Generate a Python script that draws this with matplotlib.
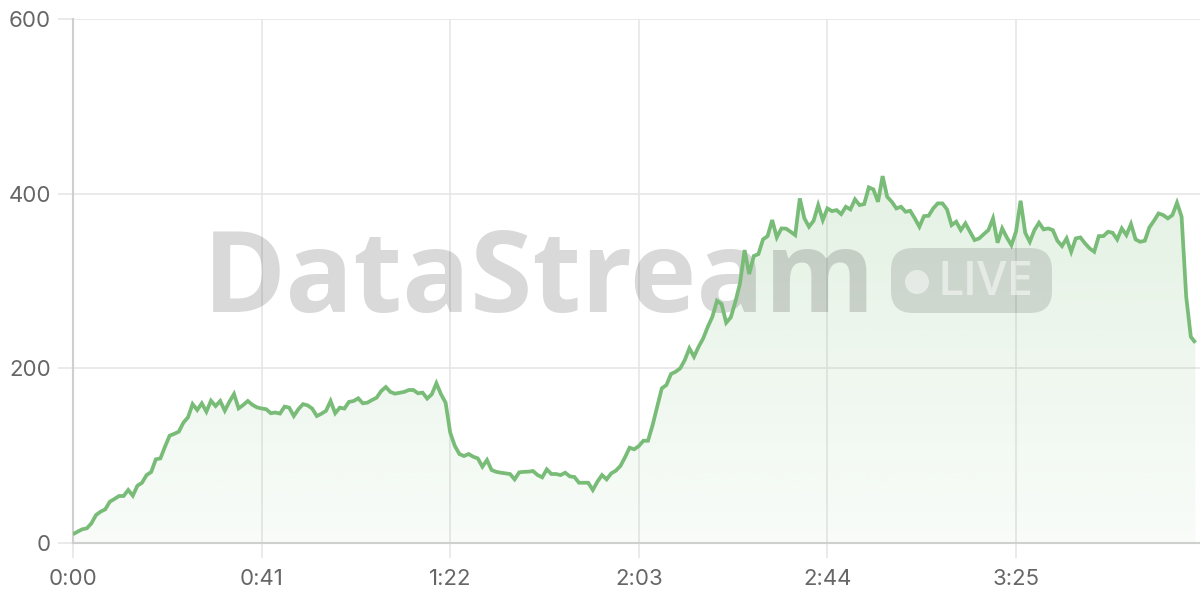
import numpy as np
import matplotlib
matplotlib.use("Agg")
from matplotlib import pyplot as plt
from matplotlib.patches import FancyBboxPatch, Circle
from matplotlib.transforms import IdentityTransform

# viewers per second, one reading each second from 0:00 on
viewers = [
    10, 13, 15.7, 16.8, 22.5, 32, 35.9, 38.5, 47.3, 50.4, 53.8, 53.8, 60.7, 54.2, 65.6, 69,
    77.8, 81.3, 95.8, 96.9, 110.3, 122.9, 125, 127.5, 137.8, 143.9, 159.1, 152.3, 159.9, 150.4,
    162.9, 156.8, 162.6, 151.5, 161.8, 170.6, 154.2, 158, 162.6, 158.2, 155.3, 154, 153.2, 148.6,
    149.4, 148.2, 156.2, 155, 145.4, 153.2, 159, 157.6, 153.9, 145.4, 148, 151.3, 162.6, 148.6,
    155, 153.9, 161.6, 162.6, 165.7, 160, 160.7, 163.7, 166.4, 174, 178.6, 173, 171, 172, 173,
    175.2, 175.2, 171.4, 172.2, 165.4, 170.3, 182.9, 170.3, 160.7, 126.4, 111.2,
    101.9, 99.6, 101.9, 98.8, 96.9, 87.4, 95, 83.6, 81.5, 80.5, 79.7, 79, 72.9, 80.9, 81.5, 81.7,
    82.4, 77.8, 75.2, 84.3, 79, 79, 77.8, 80.5, 76.3, 75.6, 69, 69, 69, 60.7, 70.2, 77.8, 72.9,
    79.7, 82.8, 88.2, 98.1, 109.1, 107.3, 111, 117.1, 117.1, 135, 156, 177.1, 180.9, 193.5, 196.1,
    200, 209.5, 222.9, 213.3, 224.7, 234.3, 247.6, 259.1, 277.4, 273.6, 252.2, 258.4, 276.3,
    297.3, 335.4, 308, 328.6, 330.8, 347.6, 351.4, 369.8, 350, 360.2, 360, 356.4, 352.6,
    394.6, 371.7, 362.1, 369, 386.9, 369.8, 383.1, 380, 381.2, 376.6, 385, 382, 393.5, 386.9,
    388.1, 407.2, 404.9, 390.7, 420.1, 396.4, 390.7, 383.1, 385, 379.3, 380.4, 371.7, 362.1,
    374.3, 374.7, 383.1, 388.9, 388.9, 382, 364, 367.9, 358.3, 366, 356.4, 346.9, 348.8, 353.7,
    358.3, 371.7, 343.8, 360.2, 349.9, 341.1, 356.4, 391.9, 355.2, 344.9, 358.3, 366.7, 359.1,
    360.2, 358.3, 346.1, 340, 348.8, 333.5, 348.8, 349.9, 343.1, 337.4, 333.5, 351.4, 351.4,
    356.4, 355.2, 347.6, 360.2, 352.6, 365.2, 347.6, 344.9, 346.1, 361.4, 369, 377.4, 375.5,
    371.7, 375.5, 389.6, 373.6, 282, 236.2, 229.3,
]
seconds = np.arange(len(viewers))

tick_seconds = [0, 41, 82, 123, 164, 205]
tick_labels = ['0:00', '0:41', '1:22', '2:03', '2:44', '3:25']
y_ticks = [0, 200, 400, 600]

line_color = '#78bc78'
grid_color = '#e6e6e6'

plt.rcParams['font.family'] = ['Inter', 'DejaVu Sans']

fig = plt.figure(figsize=(12, 6), dpi=100)
ax = fig.add_axes([73 / 1200, 57 / 600, 1127 / 1200, 524 / 600])

# gradient area under the line
poly = ax.fill_between(seconds, viewers, 0, facecolor='none', edgecolor='none')
top = max(viewers)
grad = np.zeros((256, 1, 4))
grad[:, 0, 0] = 0x78 / 255
grad[:, 0, 1] = 0xbc / 255
grad[:, 0, 2] = 0x78 / 255
grad[:, 0, 3] = np.linspace(0.05, 0.2, 256)
im = ax.imshow(grad, extent=[0, seconds[-1], 0, top], origin='lower',
               aspect='auto', zorder=1, interpolation='bilinear')
im.set_clip_path(poly.get_paths()[0], transform=ax.transData)

ax.plot(seconds, viewers, color=line_color, lw=2.7, zorder=3,
        solid_joinstyle='miter', solid_capstyle='butt')

ax.set_xlim(0, 245)
ax.set_ylim(0, 600)
ax.set_xticks(tick_seconds)
ax.set_xticklabels(tick_labels)
ax.set_yticks(y_ticks)

ax.grid(True, color=grid_color, lw=1.2, zorder=0)
ax.set_axisbelow(True)
for side in ['top', 'right']:
    ax.spines[side].set_visible(False)
for side in ['left', 'bottom']:
    ax.spines[side].set_color('#cfcfcf')
    ax.spines[side].set_linewidth(1.5)

ax.tick_params(axis='both', length=10.8, width=1.2, color=grid_color,
               labelcolor='#666666', labelsize=16)
ax.tick_params(axis='y', pad=5)
ax.tick_params(axis='x', pad=8)

# watermark
ax.text(0.4135, 0.4408, 'DataStream', transform=ax.transAxes, ha='center', va='baseline',
        fontsize=81, fontweight='bold', family='Open Sans', color='black', alpha=0.15, zorder=2)

box = FancyBboxPatch((891, 287), 161, 65, boxstyle='round,pad=0,rounding_size=22',
                     transform=IdentityTransform(), facecolor='black', edgecolor='none',
                     alpha=0.12, zorder=2)
fig.add_artist(box)
fig.add_artist(Circle((917, 318), 12, transform=IdentityTransform(), facecolor='white',
                      edgecolor='none', alpha=0.5, zorder=3))
fig.text(938, 305, 'LIVE', transform=IdentityTransform(), ha='left', va='baseline',
         fontsize=34, fontweight='semibold', family='Open Sans', color='white',
         alpha=0.5, zorder=3)

fig.savefig('out.png', dpi=100)
